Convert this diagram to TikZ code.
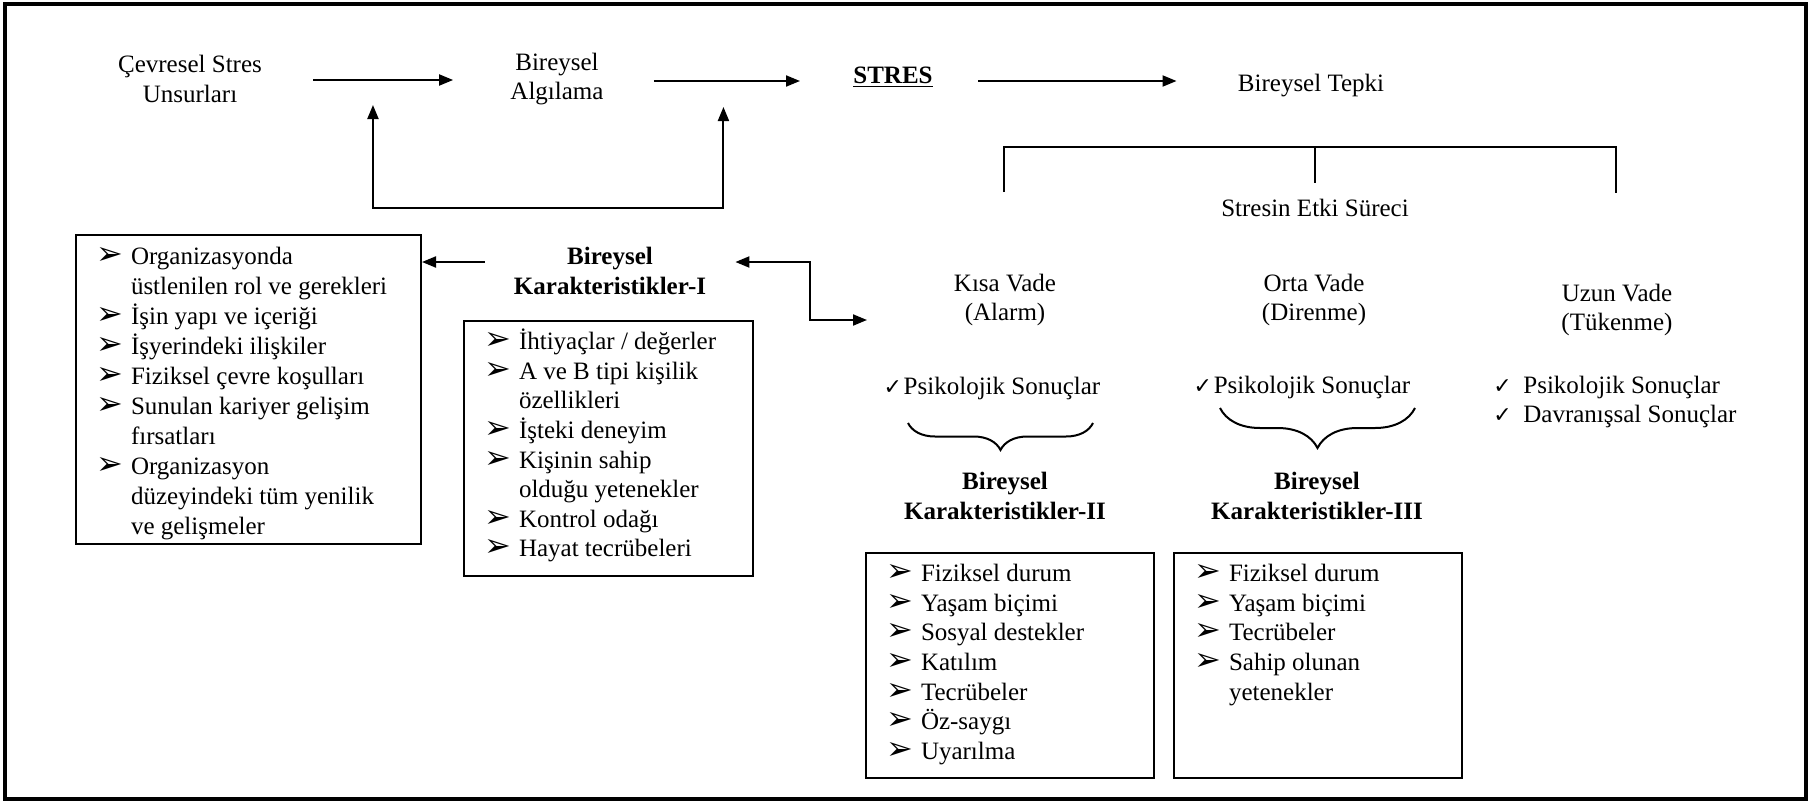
\documentclass[tikz,border=0pt]{standalone}
\usepackage{fontspec}
\setmainfont{Liberation Serif}
\newfontfamily\dejavu{DejaVu Sans}
\usetikzlibrary{arrows.meta,decorations.pathreplacing,calc}

\newcommand{\ok}{{\dejavu\fontsize{11}{11}\selectfont ✓}}
\newcommand{\bl}{\makebox[17.5pt][l]{\dejavu\fontsize{16}{12}\selectfont ➢}}
\newcommand{\ct}{\hspace*{17.5pt}}

\begin{document}
\begin{tikzpicture}[x=0.5pt, y=-0.5pt,
        every node/.style={font=\fontsize{12.5}{14.8}\selectfont, inner sep=0pt},
        txt/.style={align=center},
        bold/.style={align=center, font=\fontsize{12.5}{14.8}\selectfont\bfseries},
        listbox/.style={draw, line width=1pt, anchor=north west, inner xsep=10pt, inner ysep=4pt},
        arr/.style={line width=1pt, -{Triangle[length=7pt,width=5.5pt]}},
        dblarr/.style={line width=1pt, {Triangle[length=7pt,width=5.5pt]}-{Triangle[length=7pt,width=5.5pt]}},
        brc/.style={line width=1pt, decorate, decoration={brace, mirror, amplitude=#1}}
    ]
    \useasboundingbox (0,0) rectangle (1814,803);
    \draw[line width=1.8pt] (5,4) rectangle (1806,799);

    % ust sira
    \node[txt] (cevre) at (190,79) {Çevresel Stres\\Unsurları};
    \node[txt] (algi) at (557,79) {Bireysel\\Algılama};
    \node (stres) at (893,77) {\underline{\textbf{STRES}}};
    \node (tepki) at (1311,86) {Bireysel Tepki};

    \draw[arr] ($(cevre.east)+(51,1)$) -- coordinate[pos=0.427] (m1) ($(cevre.east -| algi.west)+(-57,1)$);
    \draw[arr] ($(algi.east)+(50,2)$) -- coordinate[pos=0.476] (m2) ($(algi.east -| stres.west)+(-53,2)$);
    \draw[arr] ($(algi.east -| stres.east)+(45,2)$) -- ($(algi.east -| tepki.west)+(-61,2)$);
    \draw[dblarr] ($(m1)+(0,25)$) |- ($(m2)+(0,127)$) -- ($(m2)+(0,26)$);

    % stresin etki sureci
    \node (etki) at (1315,208) {Stresin Etki Süreci};
    \coordinate (brtop) at (1315,147);
    \coordinate (brl) at (1004,192);
    \coordinate (brr) at (1616,193);
    \draw[line width=1pt] (brl) |- (brtop) -| (brr);
    \draw[line width=1pt] (brtop) -- ++(0,36);

    % bireysel karakteristikler-I
    \node[bold, minimum width=125pt] (bk1) at (610,271) {Bireysel\\Karakteristikler-I};
    \node[listbox] (orgbox) at (75,234) {\parbox[t][146.5pt][t]{152.5pt}{\fontsize{12.5}{15}\selectfont
        \strut\bl Organizasyonda\\
        \ct üstlenilen rol ve gerekleri\\
        \bl İşin yapı ve içeriği\\
        \bl İşyerindeki ilişkiler\\
        \bl Fiziksel çevre koşulları\\
        \bl Sunulan kariyer gelişim\\
        \ct fırsatları\\
        \bl Organizasyon\\
        \ct düzeyindeki tüm yenilik\\
        \ct ve gelişmeler}};
    \node[listbox] (bireybox) at (463,320) {\parbox[t][119.5pt][t]{124.5pt}{
        \strut\bl İhtiyaçlar / değerler\\
        \bl A ve B tipi kişilik\\
        \ct özellikleri\\
        \bl İşteki deneyim\\
        \bl Kişinin sahip\\
        \ct olduğu yetenekler\\
        \bl Kontrol odağı\\
        \bl Hayat tecrübeleri}};
    \draw[arr] ($(bk1.west)+(0,-9)$) coordinate (a1) -- (a1 -| orgbox.east);

    % vadeler
    \node[txt] (kisa) at (1005,300) {Kısa Vade\\(Alarm)};
    \node[txt] (orta) at (1314,300) {Orta Vade\\(Direnme)};
    \node[txt] (uzun) at (1617,310) {Uzun Vade\\(Tükenme)};
    \coordinate (kisain) at (867,320);
    \draw[dblarr] ($(bk1.east)+(0,-9)$) -| ($(kisain)+(-57,0)$) -- (kisain);

    \node (psk1) at (992,388) {\makebox[10pt][l]{\ok}Psikolojik Sonuçlar};
    \node (psk2) at (1302,387) {\makebox[10pt][l]{\ok}Psikolojik Sonuçlar};
    \node[anchor=west, align=left] (psk3) at (1493,402) {\makebox[15pt][l]{\ok}Psikolojik Sonuçlar\\\makebox[15pt][l]{\ok}Davranışsal Sonuçlar};

    \coordinate (br1a) at (908,423);
    \coordinate (br1b) at (1093,423);
    \coordinate (br2a) at (1220,408);
    \coordinate (br2b) at (1415,408);
    \draw[brc=13.5pt] (br1a) -- (br1b);
    \draw[brc=20pt] (br2a) -- (br2b);

    % bireysel karakteristikler-II ve III
    \node[bold] (bk2) at (1005,496) {Bireysel\\Karakteristikler-II};
    \node[bold] (bk3) at (1317,496) {Bireysel\\Karakteristikler-III};
    \node[listbox] (box2) at (865,552) {\parbox[t][104.5pt][t]{124pt}{
        \strut\bl Fiziksel durum\\
        \bl Yaşam biçimi\\
        \bl Sosyal destekler\\
        \bl Katılım\\
        \bl Tecrübeler\\
        \bl Öz-saygı\\
        \bl Uyarılma}};
    \node[listbox] (box3) at (1173,552) {\parbox[t][104.5pt][t]{124pt}{
        \strut\bl Fiziksel durum\\
        \bl Yaşam biçimi\\
        \bl Tecrübeler\\
        \bl Sahip olunan\\
        \ct yetenekler}};

\end{tikzpicture}
\end{document}
